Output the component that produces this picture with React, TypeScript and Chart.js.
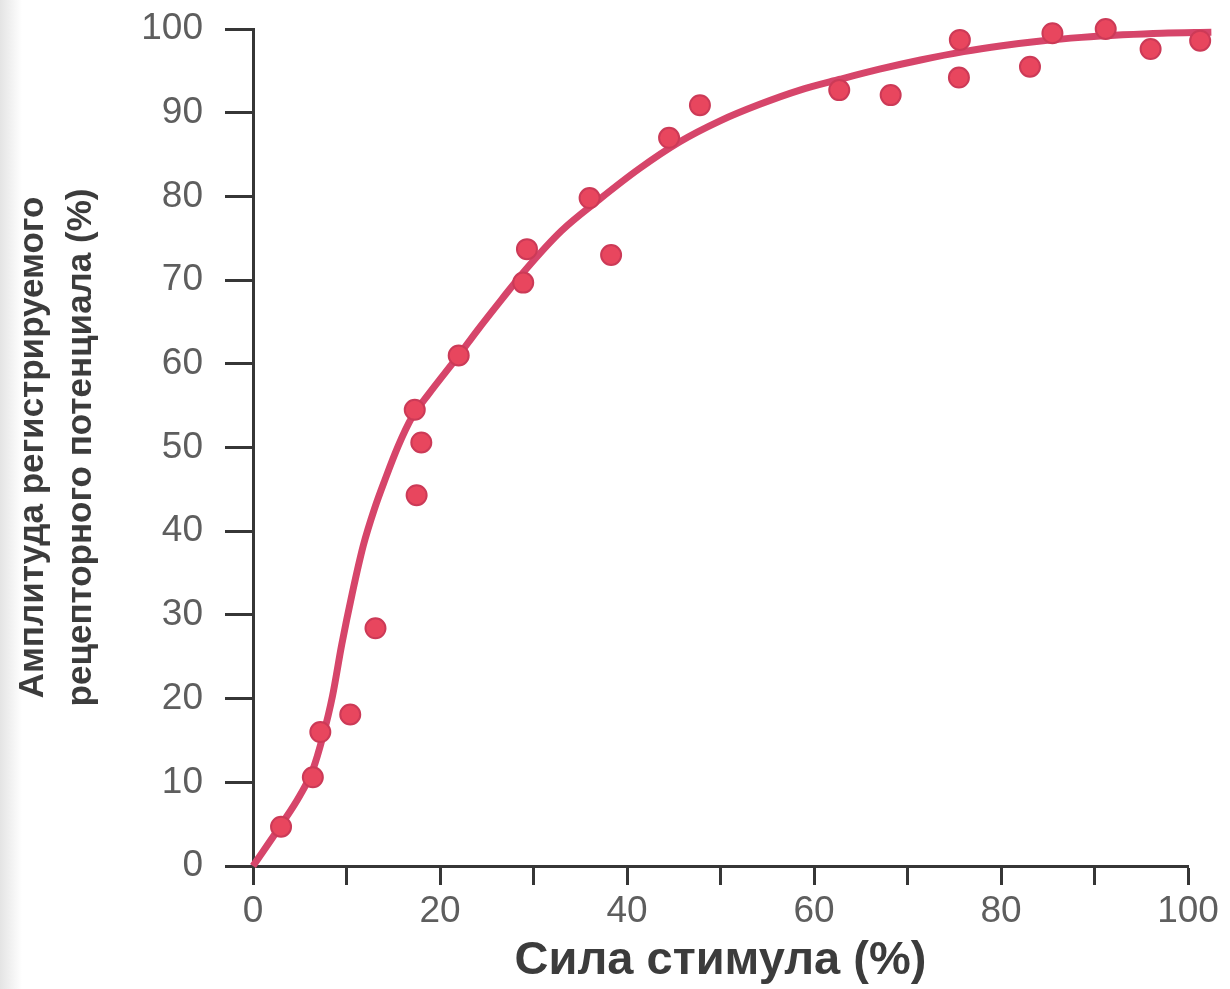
import React, { useEffect, useRef } from "react";
import { Chart, registerables } from "chart.js";

Chart.register(...registerables);

// Measured points: stimulus strength (%) vs. amplitude (%)
const pointX = [3.0, 6.4, 7.2, 10.4, 13.1, 17.3, 18.0, 17.5, 22.0, 28.9, 29.3, 36.0, 38.3, 44.5, 47.8, 62.7, 68.2, 75.5, 75.6, 83.1, 85.5, 91.2, 96.0, 101.3];
const pointY = [4.7, 10.6, 16.0, 18.1, 28.4, 54.5, 50.6, 44.3, 61.0, 69.7, 73.7, 79.8, 73.0, 87.0, 90.9, 92.7, 92.1, 94.2, 98.7, 95.5, 99.5, 100.0, 97.6, 98.6];

// Fitted curve
const curveX = [0, 3.0, 5.0, 6.4, 7.5, 8.5, 9.5, 10.6, 11.8, 13.0, 14.1, 15.5, 17.0, 18.8, 22.0, 24.0, 26.6, 29.2, 33.0, 37.0, 41.3, 45.6, 49.9, 54.2, 58.5, 62.8, 67.0, 71.4, 76.0, 80.1, 84.5, 88.6, 93.0, 97.2, 102.5];
const curveY = [0, 4.9, 8.4, 11.5, 15.6, 20.3, 26.5, 32.5, 38.3, 42.7, 46.1, 50.1, 53.6, 56.4, 61.0, 64.0, 67.7, 71.3, 75.9, 79.6, 83.3, 86.5, 89.0, 91.0, 92.7, 94.0, 95.2, 96.3, 97.3, 98.0, 98.6, 99.0, 99.3, 99.5, 99.6];

const xLabeledTicks = [0, 20, 40, 60, 80, 100];
const xTitle = "Сила стимула (%)";
const yTitle = ["Амплитуда регистрируемого", "рецепторного потенциала (%)"];

const axisColor = "#363636";
const tickLabelColor = "#5e5e5e";
const titleColor = "#3c3c3c";
const curveColor = "#d6456a";
const pointColor = "#e8465e";
const pointBorder = "#cc3a57";
const fontFamily = "'Liberation Sans', Arial, sans-serif";

export default function App() {
  const ref = useRef<HTMLCanvasElement | null>(null);

  useEffect(() => {
    if (!ref.current) return;
    const pts = pointX.map((x, i) => ({ x, y: pointY[i] }));
    const curve = curveX.map((x, i) => ({ x, y: curveY[i] }));
    const chart = new Chart(ref.current, {
      type: "scatter",
      data: {
        datasets: [
          {
            label: "points",
            data: pts,
            showLine: false,
            pointRadius: 10,
            pointHoverRadius: 16,
            pointBackgroundColor: pointColor,
            pointBorderColor: pointBorder,
            pointBorderWidth: 2,
            clip: false,
          },
          {
            label: "curve",
            data: curve,
            showLine: true,
            borderColor: curveColor,
            borderWidth: 7,
            pointRadius: 0,
            pointHoverRadius: 0,
            tension: 0.4,
            cubicInterpolationMode: "monotone",
            clip: false,
          },
        ],
      },
      options: {
        responsive: false,
        animation: false,
        events: [],
        layout: { padding: { left: 0, right: 42, top: 29, bottom: 0 } },
        plugins: { legend: { display: false }, tooltip: { enabled: false } },
        scales: {
          x: {
            type: "linear",
            min: 0,
            max: 100,
            afterFit: (s: any) => {
              s.height = 123;
              s.paddingLeft = 0;
              s.paddingRight = 0;
            },
            border: { display: true, color: axisColor, width: 3 },
            grid: {
              drawOnChartArea: false,
              drawTicks: true,
              tickLength: 19,
              tickWidth: 3,
              tickColor: axisColor,
            },
            ticks: {
              stepSize: 10,
              autoSkip: false,
              maxRotation: 0,
              padding: 5,
              color: tickLabelColor,
              font: { family: fontFamily, size: 37 },
              callback: (v: any) => (xLabeledTicks.includes(Number(v)) ? String(v) : ""),
            },
            title: {
              display: true,
              text: xTitle,
              color: titleColor,
              padding: { top: 0, bottom: 0 },
              font: { family: fontFamily, size: 47, weight: "bold", lineHeight: 1.2 },
            },
          },
          y: {
            type: "linear",
            min: 0,
            max: 100,
            afterFit: (s: any) => {
              s.width = 253;
              s.paddingTop = 0;
              s.paddingBottom = 0;
            },
            border: { display: true, color: axisColor, width: 3 },
            grid: {
              drawOnChartArea: false,
              drawTicks: true,
              tickLength: 28,
              tickWidth: 3,
              tickColor: axisColor,
            },
            ticks: {
              stepSize: 10,
              autoSkip: false,
              padding: 22,
              color: tickLabelColor,
              font: { family: fontFamily, size: 37 },
            },
            title: {
              display: true,
              text: yTitle,
              color: titleColor,
              padding: { top: 9, bottom: 0 },
              font: { family: fontFamily, size: 35, weight: "bold", lineHeight: 1.38 },
            },
          },
        },
      },
    });
    return () => chart.destroy();
  }, []);

  return (
    <div
      style={{
        position: "absolute",
        left: 0,
        top: 0,
        width: 1230,
        height: 989,
        background: "linear-gradient(to right, #e4e4e4 0px, #ffffff 22px)",
      }}
    >
      <canvas ref={ref} width={1230} height={989} style={{ display: "block" }} />
    </div>
  );
}
